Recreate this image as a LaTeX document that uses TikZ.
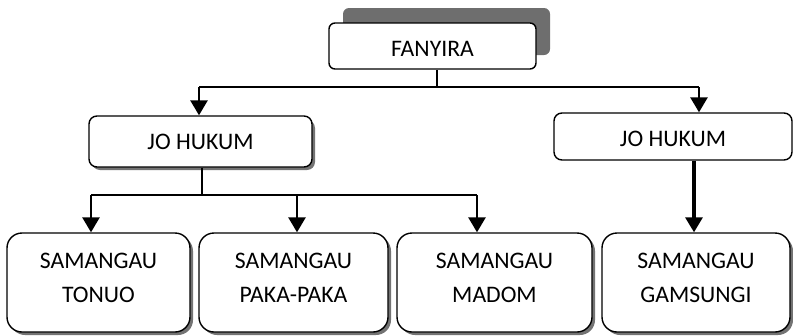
\documentclass[tikz,border=0pt]{standalone}
\usepackage{fontspec}
\setmainfont{Carlito}
\usetikzlibrary{arrows.meta}
\begin{document}
\begin{tikzpicture}[x=1pt,y=-1pt,
  box/.style={draw,line width=1.4pt,fill=white,align=center,inner sep=0pt,font=\fontsize{23.7}{34}\selectfont},
  conn/.style={line width=1.4pt},
  arr/.style={line width=2.8pt,-{Triangle[width=17pt,length=15pt]}}]
\useasboundingbox (0,0) rectangle (793,335);
% shadows
\fill[black!57, rounded corners=6pt] (343,8) rectangle (550,55);
\fill[black!55, rounded corners=8pt] (92,120) rectangle (315,170);
\foreach \a/\b in {7/190,199/388,397/592,602/790}
  \fill[black!55, rounded corners=15pt] (\a+3,236) rectangle (\b+3,335);
% nodes
\node[box,rounded corners=6pt,minimum width=207pt,minimum height=46pt] (fan) at (432.5,46) {\rule{0pt}{21pt}FANYIRA};
\node[box,rounded corners=8pt,minimum width=223pt,minimum height=51pt] (jl) at (200.5,141.5) {JO HUKUM};
\node[box,rounded corners=8pt,minimum width=238pt,minimum height=47pt] (jr) at (673,136.5) {\rule{0pt}{20pt}JO HUKUM};
\node[box,rounded corners=15pt,minimum width=183pt,minimum height=99pt] (s1) at (98.5,282.5) {SAMANGAU\\TONUO\rule[-10pt]{0pt}{10pt}};
\node[box,rounded corners=15pt,minimum width=189pt,minimum height=99pt] (s2) at (293.5,282.5) {SAMANGAU\\PAKA-PAKA\rule[-10pt]{0pt}{10pt}};
\node[box,rounded corners=15pt,minimum width=195pt,minimum height=99pt] (s3) at (494.5,282.5) {SAMANGAU\\MADOM\rule[-10pt]{0pt}{10pt}};
\node[box,rounded corners=15pt,minimum width=188pt,minimum height=99pt] (s4) at (696,282.5) {SAMANGAU\\GAMSUNGI\rule[-10pt]{0pt}{10pt}};
% connectors
\coordinate (t1) at (437,87);
\coordinate (tl) at (199,87);
\coordinate (tr) at (699,87);
\draw[conn] (fan.south -| t1) -- (t1);
\draw[conn] (tl) -- (tr);
\draw[arr] (tl) -- (tl |- jl.north);
\draw[arr] (tr) -- (tr |- jr.north);
\coordinate (b1) at (202,195);
\coordinate (bl) at (91,195);
\coordinate (bm) at (297,195);
\coordinate (br) at (477,195);
\draw[conn] (jl.south -| b1) -- (b1);
\draw[conn] (bl) -- (br);
\draw[arr] (bl) -- (bl |- s1.north);
\draw[arr] (bm) -- (bm |- s2.north);
\draw[arr] (br) -- (br |- s3.north);
\coordinate (rb) at (694,0);
\draw[arr, line width=3.2pt] (jr.south -| rb) -- (s4.north -| rb);
\end{tikzpicture}
\end{document}
